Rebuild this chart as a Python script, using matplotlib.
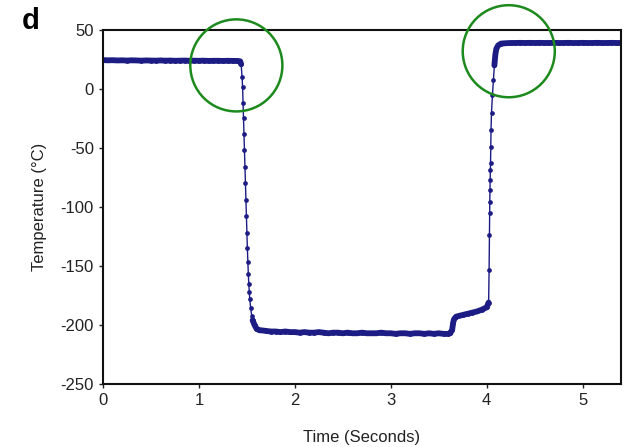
import matplotlib
matplotlib.use("Agg")
import matplotlib.pyplot as plt
from matplotlib.patches import Ellipse

plt.rcParams['font.family'] = ['Liberation Sans', 'DejaVu Sans']
plt.rcParams['axes.unicode_minus'] = False

# ---- data ----
t_initial = [0.00, 0.05, 0.10, 0.15, 0.20, 0.25, 0.30, 0.35, 0.40, 0.45, 0.50, 0.55,
             0.60, 0.65, 0.70, 0.75, 0.80, 0.85, 0.90, 0.95, 1.00, 1.05, 1.10, 1.15,
             1.20, 1.25, 1.30, 1.35, 1.40]
T_initial = [24.5, 24.3, 24.4, 24.2, 24.3, 24.1, 24.3, 24.2, 24.0, 24.2, 24.1, 24.0,
             24.2, 24.0, 24.1, 23.9, 24.0, 24.1, 23.9, 24.0, 23.9, 24.0, 23.8, 23.9,
             23.9, 23.8, 23.9, 23.8, 23.8]

t_cool = [1.43, 1.44, 1.45, 1.455, 1.46, 1.465, 1.47, 1.475, 1.48, 1.485, 1.49, 1.495,
          1.50, 1.505, 1.51, 1.515, 1.52, 1.525, 1.53, 1.54, 1.55, 1.56, 1.58, 1.60, 1.63]
T_cool = [23.5, 21, 10, 2, -12, -25, -38, -52, -66, -80, -94, -108,
          -122, -135, -147, -157, -165, -172, -178, -186, -192, -196, -200, -203, -204.5]

t_cold = [1.65, 1.70, 1.75, 1.80, 1.85, 1.90, 1.95, 2.00, 2.05, 2.10, 2.15, 2.20,
          2.25, 2.30, 2.35, 2.40, 2.45, 2.50, 2.55, 2.60, 2.65, 2.70, 2.75, 2.80,
          2.85, 2.90, 2.95, 3.00, 3.05, 3.10, 3.15, 3.20, 3.25, 3.30, 3.35, 3.40,
          3.45, 3.50, 3.55, 3.60]
T_cold = [-204.5, -205, -205.5, -205.5, -206, -205.5, -206, -206, -206.5, -206, -206.5, -206.5,
          -206, -206.5, -207, -206.5, -206.5, -207, -206.5, -207, -207, -206.5, -207, -207,
          -207, -206.5, -207, -207, -207.5, -207, -207, -207.5, -207, -207, -207.5, -207,
          -207.5, -207, -207.5, -207.5]

t_step = [3.62, 3.64, 3.65, 3.66, 3.68, 3.70, 3.75, 3.80, 3.85, 3.90, 3.95, 4.00, 4.02]
T_step = [-207, -204, -198, -195, -193, -192.5, -191.5, -190.5, -189.5, -188.5, -187, -185, -181]

t_warm = [4.025, 4.028, 4.030, 4.032, 4.034, 4.036, 4.038, 4.040, 4.042, 4.045, 4.05,
          4.06, 4.07, 4.08, 4.09, 4.10, 4.12, 4.15]
T_warm = [-153, -124, -105, -96, -86, -77, -69, -63, -49, -35, -20,
          -5, 8, 20, 29, 34, 37, 38.5]

t_final = [4.20, 4.25, 4.30, 4.35, 4.40, 4.45, 4.50, 4.55, 4.60, 4.65, 4.70, 4.75,
           4.80, 4.85, 4.90, 4.95, 5.00, 5.05, 5.10, 5.15, 5.20, 5.25, 5.30, 5.35, 5.40]
T_final = [38.8, 39.0, 39.0, 39.1, 39.0, 39.1, 39.0, 39.1, 39.0, 39.0, 39.1, 39.0,
           39.0, 39.1, 39.0, 39.0, 39.1, 39.0, 39.0, 39.1, 39.0, 39.0, 39.1, 39.0, 39.0]

time = t_initial + t_cool + t_cold + t_step + t_warm + t_final
temp = T_initial + T_cool + T_cold + T_step + T_warm + T_final

x_ticks = [0, 1, 2, 3, 4, 5]
y_ticks = [-250, -200, -150, -100, -50, 0, 50]

# ---- figure ----
fig = plt.figure(figsize=(6.25, 4.47), dpi=100)
ax = fig.add_axes([0.1648, 0.1409, 0.8288, 0.792])

navy = '#1c1c84'
ax.plot(time, temp, color=navy, lw=1.0, marker='o', markersize=3.4,
        markeredgewidth=0, markerfacecolor=navy)
# dense sampling in the plateaus renders as a thick band
for ts, Ts in [(t_initial + t_cool[:2], T_initial + T_cool[:2]),
               (t_cool[-4:] + t_cold + t_step, T_cool[-4:] + T_cold + T_step),
               (t_warm[-5:] + t_final, T_warm[-5:] + T_final)]:
    ax.plot(ts, Ts, color=navy, lw=4.2, solid_capstyle='round', solid_joinstyle='round')

ax.set_xlim(0, 5.4)
ax.set_ylim(-250, 50)
ax.set_xticks(x_ticks)
ax.set_yticks(y_ticks)
ax.tick_params(direction='out', length=3, width=1, labelsize=12, colors='#222222')
for s in ax.spines.values():
    s.set_linewidth(1.5)
    s.set_color('#111111')

ax.set_xlabel('Time (Seconds)', fontsize=12, color='#222222', labelpad=16)
ax.set_ylabel('Temperature (\u00b0C)', fontsize=12, color='#222222', labelpad=10)

fig.text(0.035, 0.952, 'd', fontsize=21, fontweight='bold', ha='left', va='center')

# highlight circles
green = '#1d8a1d'
for cx, cy in [(1.39, 20), (4.23, 32)]:
    e = Ellipse((cx, cy), width=0.96, height=78, fill=False, edgecolor=green,
                lw=1.8, clip_on=False, zorder=5)
    ax.add_patch(e)

fig.savefig('out.png', dpi=100)
